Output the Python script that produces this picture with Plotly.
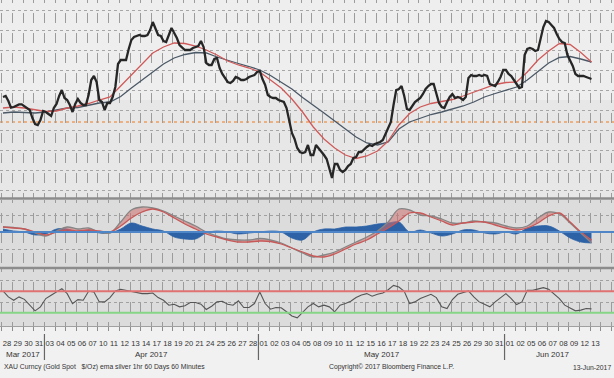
import plotly.graph_objects as go

# ---------------- data ----------------
day_labels = ["28","29","30","31",
              "03","04","05","06","07","10","11","12","13","14","17","18","19","20","21","24","25","26","27","28",
              "01","02","03","04","05","08","09","10","11","12","15","16","17","18","19","22","23","24","25","26","29","30","31",
              "01","02","05","06","07","08","09","12","13"]
month_labels = ["Mar 2017", "Apr 2017", "May 2017", "Jun 2017"]
month_start = [0, 4, 24, 47]
month_len = [4, 20, 23, 9]

samples_per_day = 4
# hourly gold spot, read at 4 points per trading day
price = [
    1256.5, 1257, 1254.5, 1251.2,
    1251.5, 1252, 1252.8, 1252.8,
    1252, 1251, 1250, 1246,
    1243, 1242.5, 1245, 1249.5,
    1249, 1248, 1247, 1251,
    1253, 1257, 1260, 1256,
    1255, 1252.5, 1249, 1253,
    1255.5, 1253.5, 1252.5, 1252.5,
    1257.5, 1265, 1267, 1264,
    1255, 1254, 1250, 1253.5,
    1253.5, 1256.5, 1261.5, 1273,
    1275, 1275, 1275, 1280.5,
    1285, 1286.5, 1287, 1287.5,
    1287, 1287, 1287.5, 1290,
    1294, 1290.5, 1287.5, 1287,
    1284.5, 1284, 1287.5, 1291,
    1288.5, 1286, 1282.5, 1281,
    1280, 1280, 1280, 1281,
    1281.5, 1282, 1284.5, 1281.5,
    1273.5, 1272.5, 1272.5, 1275.5,
    1276, 1271, 1268, 1266,
    1264, 1263.5, 1264.5, 1266.5,
    1266, 1265, 1265, 1265.5,
    1266.5, 1267, 1267.5, 1269,
    1269.5, 1265.5, 1262.5, 1257.5,
    1256.5, 1256, 1256, 1255,
    1254.5, 1254, 1251, 1244.5,
    1238.5, 1235.5, 1231, 1229,
    1228.5, 1229, 1232.5, 1227.5,
    1227.5, 1232.5, 1231, 1229.5,
    1227.5, 1225.5, 1220, 1216,
    1223, 1223, 1220, 1219,
    1220, 1222, 1223, 1226,
    1226.5, 1229, 1229, 1230.5,
    1231.5, 1232.5, 1232, 1233,
    1233.5, 1234, 1235, 1238,
    1241, 1244, 1252.5, 1260,
    1260.5, 1262, 1257, 1250.5,
    1250, 1252, 1254, 1255,
    1256, 1258, 1260.5, 1262,
    1263, 1263, 1258, 1253.5,
    1251.5, 1251, 1254, 1256.5,
    1258, 1256, 1256.5, 1256,
    1255, 1256.5, 1266, 1267.5,
    1267, 1267, 1267.5, 1267,
    1267.5, 1267, 1263, 1262.5,
    1262, 1264, 1266.5, 1270,
    1270, 1268, 1267, 1265,
    1263, 1261, 1261.5, 1277.5,
    1280.5, 1281, 1280.5, 1279.5,
    1280, 1286.5, 1291.5, 1294.5,
    1294, 1292.5, 1291, 1288,
    1285.5, 1284, 1283.5, 1277.5,
    1275, 1272, 1268, 1267,
    1267, 1267, 1266.5, 1266,
    1265.5,
]

# EMAs, one reading per trading day
ema_fast = [1251, 1251.5, 1251, 1250, 1249.25, 1249.5, 1251, 1252, 1253.25, 1255,
            1256.5, 1262, 1267.5, 1273, 1278.5, 1281.5, 1283.5, 1283.25, 1282, 1280,
            1277.5, 1274.5, 1272.5, 1271, 1269, 1265, 1261, 1255.5, 1249, 1241.5,
            1235.5, 1231, 1227.5, 1225.75, 1227, 1229.5, 1234.5, 1242.5, 1248.25, 1251.5,
            1253.25, 1254.25, 1255.25, 1257, 1259, 1261, 1262.75, 1263.75, 1264, 1269,
            1275, 1279.5, 1283.25, 1282.75, 1278.75, 1274]
ema_slow = [1248.5, 1249, 1248.75, 1248.5, 1249, 1250, 1251, 1251.25, 1252.5, 1253.5,
            1254, 1256.75, 1261, 1265, 1269.25, 1273, 1276, 1277.75, 1278.75, 1278.5,
            1276.5, 1274.75, 1273.25, 1271.75, 1270, 1267.25, 1264, 1260.5, 1256.25, 1252.5,
            1248.5, 1244.5, 1240.5, 1236.5, 1233.5, 1232.5, 1234, 1240.5, 1244, 1246,
            1247.75, 1249, 1250.5, 1252, 1254, 1256.5, 1258.25, 1259.75, 1261.5, 1265,
            1269.25, 1273.5, 1276.25, 1276.75, 1275.5, 1274]
ref_level = 1244

# oscillator panel, one reading per trading day
osc_line = [0.5, 0.45, 0.3, -0.1, -0.4, 0.1, 0.5, 0.3, 0.4, 0, -0.1, 1.0, 2.2, 2.5, 2.4, 2.1,
            1.6, 1.1, 0.6, 0, -0.4, -0.7, -0.8, -0.8, -0.65, -0.8, -1.1, -1.6, -2.1, -2.5,
            -2.3, -2.0, -1.5, -1.0, -0.5, 0.1, 1.0, 2.3, 2.2, 1.7, 1.6, 1.3, 0.9, 0.9, 1.1,
            1.0, 0.9, 0.6, 0.4, 0.6, 1.4, 2.0, 1.8, 0.9, -0.1, -1.1]
osc_signal = [0.5, 0.4, 0.3, 0, -0.3, 0, 0.2, 0.1, 0.2, 0.1, 0, 0.6, 1.4, 2.0, 2.3, 2.0,
              1.4, 0.8, 0.3, -0.2, -0.5, -0.8, -1.0, -1.0, -0.9, -0.95, -1.2, -1.6, -2.0, -2.4,
              -2.5, -2.2, -1.7, -1.2, -0.8, -0.2, 0.4, 1.1, 1.9, 1.9, 1.5, 1.1, 0.7, 0.9, 1.0,
              1.0, 0.7, 0.4, 0.2, 0.4, 0.9, 1.6, 1.9, 1.0, 0, -0.8]
osc_hist = [0.3, 0.1, 0, -0.3, -0.2, 0.3, 0.3, 0, 0.2, -0.1, -0.1, 0.3, 0.9, 0.6, 0.3, 0.1,
            -0.5, -0.7, -0.7, -0.1, 0.1, 0, -0.2, -0.1, 0, 0.1, 0, -0.6, -0.8, 0,
            0.3, 0.3, 0.5, 0.5, 0.6, 0.8, 0.9, 1.0, 0, 0.2, -0.1, -0.4, -0.2, 0.2, 0.2,
            -0.1, -0.2, 0, -0.2, 0.4, 0.6, 0.6, 0.1, -0.6, -1.0, -1.1]

# RSI, two readings per trading day
rsi = [70.6, 59.6, 53.4, 59.6, 55, 44.2, 33.7, 41.1, 56.5, 62.6,
       68.8, 75, 65.7, 47, 54.6, 53.4, 70, 68.8, 50.3, 50.3,
       58.3, 70.6, 73.7, 71.8, 70.6, 67.5, 65.7, 65.7, 66.9, 58.3,
       53.4, 44.2, 46, 41.1, 43, 49.1, 49.1, 46, 36.2, 42.3,
       50.3, 51.6, 46, 44.2, 52.2, 39.9, 39.9, 47.3, 68.8, 47.3,
       36.8, 39.9, 39.3, 31.9, 24, 20.8, 30, 41.1, 47.3, 41.1,
       44.2, 41.1, 31.9, 44.2, 47.3, 51.6, 58.3, 63.2, 65.7, 60.8,
       64.5, 66.9, 73, 81, 78, 70, 47.3, 50.3, 56.5, 60.8,
       64.5, 58.3, 41.1, 38, 54.6, 64.5, 66.9, 70.6, 59.6, 50.3,
       46, 41.1, 50.3, 58.3, 65.7, 56.5, 45.4, 50.3, 71.8, 71.8,
       73.7, 76.8, 73.7, 64.5, 56.5, 44.2, 39.3, 33.7, 35, 38,
       37.4]
rsi_high, rsi_low = 70, 30

footer_left = "XAU Curncy (Gold Spot \u00a0\u00a0$/Oz) ema silver 1hr 60 Days 60 Minutes"
footer_mid = "Copyright\u00a9 2017 Bloomberg Finance L.P."
footer_right = "13-Jun-2017"

# ---------------- positions ----------------
n_days = len(day_labels)
x_price = [j // samples_per_day - 0.375 + 0.25 * (j % samples_per_day) for j in range(len(price))]
x_daily = [i - 0.375 for i in range(len(ema_fast))]
x_rsi = [-0.375 + 0.5 * k for k in range(len(rsi))]

W, H = 614, 378
PX_PER_DAY = 10.7
x_range = [-7 / PX_PER_DAY, -7 / PX_PER_DAY + W / PX_PER_DAY]


def py(px):
    return 1 - px / H


top_dom = [py(198), 1.0]
mid_dom = [py(268), py(199.5)]
bot_dom = [py(326), py(268.5)]

price_range = [1305 - 198 / 2, 1305]
osc_range = [-3.6, 3.25]
rsi_range = [5.5, 112.4]

FONT = "Liberation Sans, Arial, sans-serif"
GRID_DASH = "3px,10px,7px,0px"

fig = go.Figure()

# ---- top panel
fig.add_trace(go.Scatter(x=x_daily, y=ema_slow, mode="lines",
                         line=dict(color="#4b5866", width=1.3), xaxis="x", yaxis="y", hoverinfo="skip"))
fig.add_trace(go.Scatter(x=x_daily, y=ema_fast, mode="lines",
                         line=dict(color="#d05a5a", width=1.3), xaxis="x", yaxis="y", hoverinfo="skip"))
fig.add_trace(go.Scatter(x=x_price, y=price, mode="lines",
                         line=dict(color="#262626", width=2.3), xaxis="x", yaxis="y"))

# ---- middle panel
fig.add_trace(go.Scatter(x=x_daily, y=osc_hist, mode="lines", fill="tozeroy",
                         fillcolor="#2d62a6", line=dict(color="#2d62a6", width=0.8, shape="spline"),
                         xaxis="x2", yaxis="y2", hoverinfo="skip"))
fig.add_trace(go.Scatter(x=x_daily, y=osc_line, mode="lines",
                         line=dict(color="#858585", width=1.3, shape="spline"),
                         xaxis="x2", yaxis="y2", hoverinfo="skip"))
fig.add_trace(go.Scatter(x=x_daily, y=osc_signal, mode="lines", fill="tonexty",
                         fillcolor="rgba(205,110,110,0.55)",
                         line=dict(color="#c75858", width=1.3, shape="spline"),
                         xaxis="x2", yaxis="y2", hoverinfo="skip"))

# ---- bottom panel
fig.add_trace(go.Scatter(x=x_rsi, y=rsi, mode="lines",
                         line=dict(color="#555555", width=1.1),
                         xaxis="x3", yaxis="y3", hoverinfo="skip"))

# ---- shapes: panel backgrounds, reference lines, separators
shapes = [
    dict(type="rect", xref="paper", yref="paper", x0=0, x1=1, y0=py(100), y1=top_dom[1],
         fillcolor="#eeeeee", line=dict(width=0), layer="below"),
    dict(type="rect", xref="paper", yref="paper", x0=0, x1=1, y0=top_dom[0], y1=py(100),
         fillcolor="#e7e7e7", line=dict(width=0), layer="below"),
    dict(type="rect", xref="paper", yref="paper", x0=0, x1=1, y0=bot_dom[0], y1=mid_dom[1],
         fillcolor="#dcdcdc", line=dict(width=0), layer="below"),
    dict(type="line", xref="x domain", yref="y", x0=0, x1=1, y0=ref_level, y1=ref_level,
         line=dict(color="#f0a060", width=1.5, dash="dot"), layer="below"),
    dict(type="line", xref="x2 domain", yref="y2", x0=0, x1=1, y0=0, y1=0,
         line=dict(color="#4f86c8", width=2)),
    dict(type="line", xref="x3 domain", yref="y3", x0=0, x1=1, y0=rsi_high, y1=rsi_high,
         line=dict(color="#e07272", width=2)),
    dict(type="line", xref="x3 domain", yref="y3", x0=0, x1=1, y0=rsi_low, y1=rsi_low,
         line=dict(color="#86d486", width=2)),
]
for sep in (198.5, 268):
    shapes.append(dict(type="line", xref="paper", yref="paper", x0=0, x1=1, y0=py(sep), y1=py(sep),
                       line=dict(color="#8c8c8c", width=2.5)))
for b in (3.5, 23.5, 46.5):
    shapes.append(dict(type="line", xref="x3", yref="paper", x0=b, x1=b, y0=py(334), y1=py(360),
                       line=dict(color="#666666", width=1.2)))

annotations = []
for lab, s, n in zip(month_labels, month_start, month_len):
    annotations.append(dict(text=lab, x=s + (n - 1) / 2, xref="x3", y=py(354), yref="paper",
                            xanchor="center", yanchor="middle",
                            showarrow=False, font=dict(size=8, color="#333333", family=FONT)))
annotations.append(dict(text=footer_left, x=2 / W, xref="paper", xanchor="left", y=py(367), yref="paper",
                        yanchor="middle", showarrow=False, font=dict(size=6.8, color="#333333", family=FONT)))
annotations.append(dict(text=footer_mid, x=392 / W, xref="paper", xanchor="center", y=py(367), yref="paper",
                        yanchor="middle", showarrow=False, font=dict(size=6.8, color="#333333", family=FONT)))
annotations.append(dict(text=footer_right, x=613 / W, xref="paper", xanchor="right", y=py(367), yref="paper",
                        yanchor="middle", showarrow=False, font=dict(size=6.8, color="#333333", family=FONT)))

minor_grid = dict(tick0=-0.5, dtick=1, showgrid=True, gridcolor="#9c9c9c", gridwidth=1.2,
                  griddash=GRID_DASH)

common_x = dict(range=x_range, showgrid=False, zeroline=False, fixedrange=True, automargin=False)

fig.update_layout(
    template="none",
    width=W, height=H,
    margin=dict(l=0, r=0, t=0, b=0, pad=0, autoexpand=False),
    paper_bgcolor="#f1f1f1",
    plot_bgcolor="rgba(0,0,0,0)",
    showlegend=False,
    shapes=shapes,
    annotations=annotations,
    xaxis=dict(**common_x, anchor="y", showticklabels=False, ticks="", minor=minor_grid),
    xaxis2=dict(**common_x, anchor="y2", matches="x", showticklabels=False, ticks="", minor=minor_grid),
    xaxis3=dict(**common_x, anchor="y3", matches="x",
                tickmode="array", tickvals=list(range(n_days)), ticktext=day_labels, tickangle=0,
                ticks="", showline=True, linecolor="#a0a0a0", linewidth=1,
                tickfont=dict(size=7.6, color="#333333", family=FONT), ticklabelstandoff=10,
                minor=dict(**minor_grid, ticks="outside", ticklen=4, tickcolor="#8c8c8c")),
    yaxis=dict(domain=top_dom, range=price_range, tickmode="array", automargin=False,
               tickvals=list(range(1210, 1301, 10)), showticklabels=False, ticks="",
               showgrid=True, gridcolor="#a6a6a6", griddash="dot", zeroline=False, fixedrange=True),
    yaxis2=dict(domain=mid_dom, range=osc_range, tickmode="array", tickvals=[-1.7, 1.7], automargin=False,
                showticklabels=False, ticks="", showgrid=True, gridcolor="#a0a0a0", griddash="dot",
                zeroline=False, fixedrange=True),
    yaxis3=dict(domain=bot_dom, range=rsi_range, tickmode="array", tickvals=[90, 50], automargin=False,
                showticklabels=False, ticks="", showgrid=True, gridcolor="#a0a0a0", griddash="dot",
                zeroline=False, fixedrange=True),
)

fig.write_html("out.html", config={"displayModeBar": False},
               post_script="document.body.style.margin='0px';")
